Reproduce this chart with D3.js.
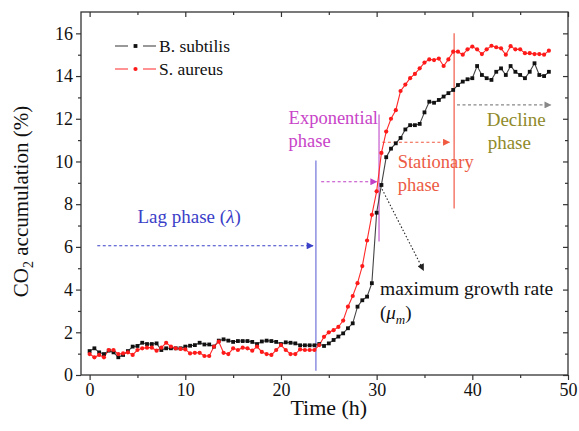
<!DOCTYPE html>
<html><head><meta charset="utf-8">
<script src="https://cdn.jsdelivr.net/npm/d3@7/dist/d3.min.js"></script>
<style>body{margin:0;background:#fff}svg{display:block;font-family:"Liberation Serif","Times New Roman",serif}</style>
</head><body><svg id="c" width="579" height="431"></svg>
<script>
const times = [0,0.5,1,1.5,2,2.5,3,3.5,4,4.5,5,5.5,6,6.5,7,7.5,8,8.5,9,9.5,10,10.5,11,11.5,12,12.5,13,13.5,14,14.5,15,15.5,16,16.5,17,17.5,18,18.5,19,19.5,20,20.5,21,21.5,22,22.5,23,23.5,24,24.5,25,25.5,26,26.5,27,27.5,28,28.5,29,29.5,30,30.5,31,31.5,32,32.5,33,33.5,34,34.5,35,35.5,36,36.5,37,37.5,38,38.5,39,39.5,40,40.5,41,41.5,42,42.5,43,43.5,44,44.5,45,45.5,46,46.5,47,47.5,48];
const bSubtilis = [1.12,1.25,1.06,0.98,1.14,1.06,0.83,0.94,1.12,1.33,1.36,1.51,1.45,1.45,1.48,1.17,1.25,1.25,1.25,1.25,1.33,1.37,1.40,1.51,1.43,1.43,1.33,1.61,1.67,1.61,1.55,1.59,1.59,1.59,1.55,1.45,1.57,1.61,1.59,1.55,1.45,1.53,1.51,1.48,1.39,1.39,1.39,1.39,1.45,1.36,1.48,1.64,1.80,1.95,2.19,2.42,3.20,3.50,3.67,4.30,7.60,8.90,10.2,10.6,10.85,11.1,11.5,11.7,11.7,11.76,12.3,12.8,12.75,12.88,13.04,13.2,13.35,13.58,13.74,13.85,13.9,14.47,14.05,13.9,13.82,14.2,14.36,14.05,14.47,14.2,14.05,13.9,14.2,14.6,14.05,14.0,14.2];
const sAureus = [0.98,0.83,0.94,0.83,1.17,1.17,0.98,1.01,1.06,0.94,1.17,1.25,1.28,1.28,1.14,1.28,1.51,1.33,1.25,1.22,1.20,1.01,1.04,1.04,0.89,0.89,1.33,1.56,1.04,0.98,1.25,1.17,1.28,1.25,1.14,1.33,1.08,0.98,0.94,1.17,1.40,1.17,0.98,0.98,1.20,1.17,1.17,1.17,1.40,1.79,2.0,2.1,2.25,2.55,3.2,3.7,4.3,5.1,6.3,7.5,8.6,10.4,11.4,12.0,12.4,13.3,13.6,13.9,14.1,14.36,14.63,14.78,14.75,14.82,14.47,14.78,15.14,15.14,15.0,15.25,15.38,15.25,15.03,15.25,15.42,15.35,15.3,15.0,15.4,15.25,15.25,15.07,15.07,15.03,15.03,15.0,15.19];
const seriesNames = ["B. subtilis","S. aureus"];
const xTicks = [0,10,20,30,40,50];
const xMinor = [5,15,25,35,45];
const yTicks = [0,2,4,6,8,10,12,14,16];
const yMinor = [1,3,5,7,9,11,13,15];

const svg = d3.select("#c");
const L=81,R=568,T=12,B=375;
const x = d3.scaleLinear().domain([-0.9,50]).range([L,R]);
const y = d3.scaleLinear().domain([0,17]).range([B,T]);
const axisCol="#333";

function styleAxis(g){g.select(".domain").remove();g.selectAll("line").attr("stroke",axisCol).attr("stroke-width",1.2);g.selectAll("text").attr("fill","#111").attr("font-size",18).attr("font-family","Liberation Serif");}
svg.append("g").attr("transform",`translate(0,${B})`).call(d3.axisBottom(x).tickValues(xTicks).tickSize(5).tickPadding(3)).call(styleAxis);
svg.append("g").attr("transform",`translate(0,${B})`).call(d3.axisBottom(x).tickValues(xMinor).tickSize(3).tickFormat("")).call(styleAxis);
svg.append("g").attr("transform",`translate(0,${T})`).call(d3.axisTop(x).tickValues(xTicks).tickSize(-5).tickFormat("")).call(styleAxis);
svg.append("g").attr("transform",`translate(0,${T})`).call(d3.axisTop(x).tickValues(xMinor).tickSize(-3).tickFormat("")).call(styleAxis);
svg.append("g").attr("transform",`translate(${L},0)`).call(d3.axisLeft(y).tickValues(yTicks).tickSize(5).tickPadding(3)).call(styleAxis);
svg.append("g").attr("transform",`translate(${L},0)`).call(d3.axisLeft(y).tickValues(yMinor).tickSize(3).tickFormat("")).call(styleAxis);
svg.append("g").attr("transform",`translate(${R},0)`).call(d3.axisRight(y).tickValues(yTicks).tickSize(-5).tickFormat("")).call(styleAxis);
svg.append("g").attr("transform",`translate(${R},0)`).call(d3.axisRight(y).tickValues(yMinor).tickSize(-3).tickFormat("")).call(styleAxis);
svg.append("rect").attr("x",L).attr("y",T).attr("width",R-L).attr("height",B-T).attr("fill","none").attr("stroke",axisCol).attr("stroke-width",1.3);

svg.append("text").attr("x",(x(0)+x(50))/2).attr("y",415).attr("text-anchor","middle").attr("font-size",22).attr("fill","#111").text("Time (h)");
const yt = svg.append("text").attr("transform",`translate(28,${(T+B)/2+8}) rotate(-90)`).attr("text-anchor","middle").attr("font-size",21).attr("fill","#111");
yt.append("tspan").text("CO");
yt.append("tspan").attr("font-size",14).attr("dy",5).text("2");
yt.append("tspan").attr("dy",-5).text(" accumulation (%)");

const defs = svg.append("defs");
function marker(id,col){defs.append("marker").attr("id",id).attr("viewBox","0 0 10 10").attr("refX",9).attr("refY",5).attr("markerWidth",9).attr("markerHeight",7).attr("orient","auto").attr("markerUnits","userSpaceOnUse").append("path").attr("d","M0,0L10,5L0,10Z").attr("fill",col);}

const vLines = [
  {t:23.65,v0:0.2,v1:10.05,col:"#8c8fe0"},
  {t:30.25,v0:6.25,v1:12.2,col:"#d27ad8"},
  {t:38.1,v0:7.8,v1:16.0,col:"#f47a6a"}
];
vLines.forEach(d=>svg.append("line").attr("x1",x(d.t)).attr("x2",x(d.t)).attr("y1",y(d.v0)).attr("y2",y(d.v1)).attr("stroke",d.col).attr("stroke-width",1.5));

const arrows = [
  {id:"aBlue",t0:0.8,v0:6.05,t1:23.35,v1:6.05,col:"#3a40c8",dash:"3,2.5"},
  {id:"aMag",t0:24.2,v0:9.05,t1:30.0,v1:9.05,col:"#c040c8",dash:"3,2.5"},
  {id:"aRed",t0:30.6,v0:10.9,t1:37.6,v1:10.9,col:"#f05a40",dash:"3,2.5"},
  {id:"aGray",t0:38.4,v0:12.65,t1:48.2,v1:12.65,col:"#888",dash:"3,2.5"},
  {id:"aBlk",t0:30.4,v0:8.85,t1:34.9,v1:4.9,col:"#222",dash:"1.5,2"}
];
arrows.forEach(a=>{marker(a.id,a.col);svg.append("line").attr("x1",x(a.t0)).attr("y1",y(a.v0)).attr("x2",x(a.t1)).attr("y2",y(a.v1)).attr("stroke",a.col).attr("stroke-width",1.1).attr("stroke-dasharray",a.dash).attr("marker-end",`url(#${a.id})`);});

const lineGen = vals => d3.line().x((d,i)=>x(times[i])).y(d=>y(d))(vals);
svg.append("path").attr("d",lineGen(bSubtilis)).attr("fill","none").attr("stroke","#444").attr("stroke-width",1.1);
svg.append("path").attr("d",lineGen(sAureus)).attr("fill","none").attr("stroke","#ff2a2a").attr("stroke-width",1.1);
svg.append("g").selectAll("rect").data(bSubtilis).join("rect").attr("x",(d,i)=>x(times[i])-1.9).attr("y",d=>y(d)-1.9).attr("width",3.8).attr("height",3.8).attr("fill","#111");
svg.append("g").selectAll("circle").data(sAureus).join("circle").attr("cx",(d,i)=>x(times[i])).attr("cy",d=>y(d)).attr("r",2.1).attr("fill","#ff1a1a");

function label(txt,px,py,col,size){return svg.append("text").attr("x",px).attr("y",py).attr("fill",col).attr("font-size",size||18.5).text(txt);}
const lag = svg.append("text").attr("x",x(10.4)).attr("y",y(7.1)).attr("fill","#3a40c8").attr("font-size",19).attr("text-anchor","middle");
lag.append("tspan").text("Lag phase (");
lag.append("tspan").attr("font-style","italic").text("λ");
lag.append("tspan").text(")");
label("Exponential",x(20.8),y(11.76),"#c844c8",18.5);
label("phase",x(20.8),y(10.68),"#c844c8",18.5);
label("Stationary",x(32.2),y(9.70),"#ec5a44",18.5);
label("phase",x(32.2),y(8.62),"#ec5a44",18.5);
label("Decline",x(41.5),y(11.66),"#8f8a2a",19);
label("phase",x(41.6),y(10.59),"#8f8a2a",19);
label("maximum growth rate",x(30.35),y(3.75),"#111",19.5);
const mu = svg.append("text").attr("x",x(30.35)).attr("y",y(2.62)).attr("fill","#111").attr("font-size",19);
mu.append("tspan").text("(");
mu.append("tspan").attr("font-style","italic").text("μ");
mu.append("tspan").attr("font-style","italic").attr("font-size",13).attr("dy",5).text("m");
mu.append("tspan").attr("dy",-5).text(")");

const legend = [{name:seriesNames[0],line:"#555",fill:"#111",shape:"rect"},{name:seriesNames[1],line:"#ff4a4a",fill:"#ff1a1a",shape:"circle"}];
legend.forEach((d,i)=>{
  const ly = 46 + i*23;
  const g = svg.append("g");
  g.append("line").attr("x1",115).attr("x2",128).attr("y1",ly).attr("y2",ly).attr("stroke",d.line).attr("stroke-width",1.2);
  g.append("line").attr("x1",143).attr("x2",156).attr("y1",ly).attr("y2",ly).attr("stroke",d.line).attr("stroke-width",1.2);
  if(d.shape==="rect") g.append("rect").attr("x",133.6).attr("y",ly-1.9).attr("width",3.8).attr("height",3.8).attr("fill",d.fill);
  else g.append("circle").attr("cx",135.5).attr("cy",ly).attr("r",2.1).attr("fill",d.fill);
  g.append("text").attr("x",159).attr("y",ly+5.5).attr("font-size",17.5).attr("fill","#111").text(d.name);
});
</script></body></html>
